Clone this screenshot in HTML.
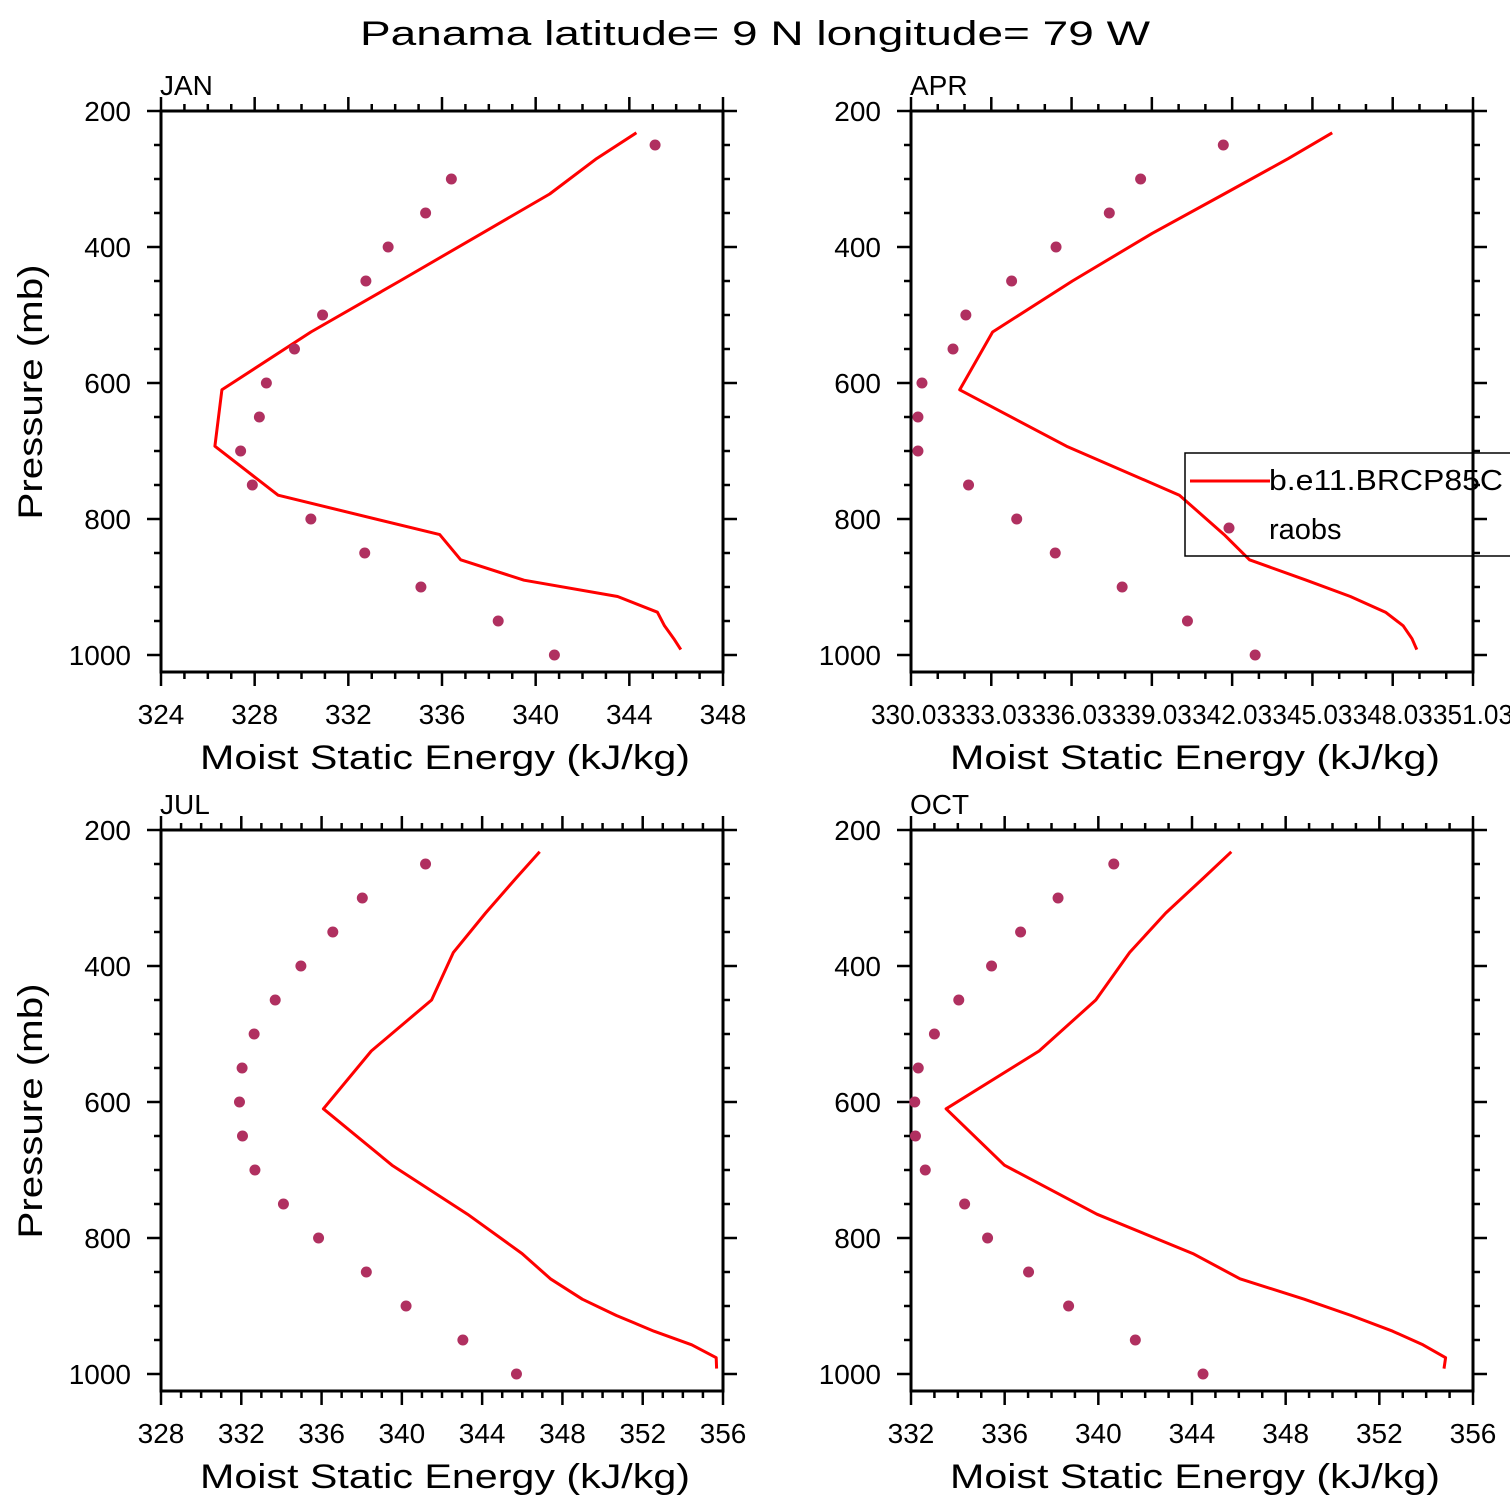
<!DOCTYPE html>
<html><head><meta charset="utf-8"><style>
html,body{margin:0;padding:0;background:#fff}
svg{display:block}
text{font-family:"Liberation Sans",sans-serif;fill:#000}
</style></head><body>
<svg id="fig" width="1510" height="1510" viewBox="0 0 1510 1510" xmlns="http://www.w3.org/2000/svg">
<rect x="0" y="0" width="1510" height="1510" fill="#fff"/>
<text x="755" y="45" text-anchor="middle" font-size="34" textLength="790" lengthAdjust="spacingAndGlyphs">Panama  latitude= 9 N longitude= 79 W</text>
</svg>
<script>
const levels = [232,270,322,380,450,525,610,693,765,823,860,890,914,937,957,976,992];
const obsLevels = [250,300,350,400,450,500,550,600,650,700,750,800,850,900,950,1000];
const janModel = [344.3,342.6,340.6,337.7,334.2,330.4,326.6,326.3,329.0,335.9,336.8,339.5,343.5,345.2,345.5,345.9,346.2];
const janObs = [345.1,336.4,335.3,333.7,332.75,330.9,329.7,328.5,328.2,327.4,327.9,330.4,332.7,335.1,338.4,340.8];
const aprModel = [345.77,344.13,341.73,339.04,336.06,333.08,331.85,335.84,340.06,341.73,342.68,344.8,346.45,347.76,348.42,348.75,348.93];
const aprObs = [341.70,338.61,337.44,335.45,333.79,332.08,331.6,330.44,330.29,330.29,332.18,333.98,335.42,337.92,340.36,342.89];
const julModel = [346.87,345.71,344.17,342.57,341.48,338.48,336.09,339.51,343.27,345.99,347.40,348.99,350.69,352.56,354.44,355.66,355.68];
const julObs = [341.18,338.03,336.56,334.97,333.69,332.64,332.04,331.91,332.06,332.68,334.10,335.85,338.23,340.21,343.04,345.71];
const octModel = [345.68,344.51,342.88,341.34,339.89,337.47,333.50,335.99,339.94,344.04,346.05,348.79,350.80,352.57,353.86,354.83,354.76];
const octObs = [340.66,338.28,336.68,335.44,334.04,333.0,332.31,332.16,332.19,332.61,334.29,335.27,337.02,338.73,341.58,344.47];
const janTicks = ["324","328","332","336","340","344","348"];
const aprTicks = ["330.03","333.03","336.03","339.03","342.03","345.03","348.03","351.03"];
const julTicks = ["328","332","336","340","344","348","352","356"];
const octTicks = ["332","336","340","344","348","352","356"];
const yTicks = ["200","400","600","800","1000"];

const NS="http://www.w3.org/2000/svg";
const svg=document.getElementById('fig');
function mk(tag,attrs,parent){const e=document.createElementNS(NS,tag);for(const k in attrs)e.setAttribute(k,attrs[k]);(parent||svg).appendChild(e);return e;}

const panels=[
 {name:'jan',label:'JAN',x0:161,top:111,xmin:324,xmax:348,major:4,minor:1,ticks:janTicks,model:janModel,obs:janObs,ylab:true,legend:false},
 {name:'apr',label:'APR',x0:911,top:111,xmin:330.03,xmax:351.03,major:3,minor:1,ticks:aprTicks,model:aprModel,obs:aprObs,ylab:false,legend:true},
 {name:'jul',label:'JUL',x0:161,top:830,xmin:328,xmax:356,major:4,minor:1,ticks:julTicks,model:julModel,obs:julObs,ylab:true,legend:false},
 {name:'oct',label:'OCT',x0:911,top:830,xmin:332,xmax:356,major:4,minor:1,ticks:octTicks,model:octModel,obs:octObs,ylab:false,legend:false}
];
const W=562, PPM=0.68, PMAX=1025;
panels.forEach(p=>{
  const g=mk('g',{});
  
  
  const xs=v=>p.x0+(v-p.xmin)/(p.xmax-p.xmin)*W;
  const ys=v=>p.top+(v-200)*PPM;
  const bottom=ys(PMAX);
  let tp='';
  const nMin=Math.round((p.xmax-p.xmin)/p.minor);
  for(let i=0;i<=nMin;i++){
    const v=p.xmin+i*p.minor; const x=xs(v);
    const isMaj=(i%Math.round(p.major/p.minor))===0; const L=isMaj?14:7;
    tp+=`M${x} ${p.top}V${p.top-L}M${x} ${bottom}V${bottom+L}`;
  }
  for(let v=200;v<=PMAX;v+=50){
    const y=ys(v); const L=(v%200===0)?14:7;
    tp+=`M${p.x0} ${y}H${p.x0-L}M${p.x0+W} ${y}H${p.x0+W+L}`;
  }
  const t=mk('path',{d:tp,stroke:'#000','stroke-width':2.5,fill:'none'},g);
  
  
  const f=mk('rect',{x:p.x0,y:p.top,width:W,height:bottom-p.top,fill:'none',stroke:'#000','stroke-width':3},g);
  
  
  p.ticks.forEach((s,i)=>{
    const x=xs(p.xmin+i*p.major);
    const attrs={x:x,y:bottom+52,'text-anchor':'middle','font-size':28};
    if(s.length>4){attrs.textLength=80;attrs.lengthAdjust='spacingAndGlyphs';}
    const e=mk('text',attrs,g); e.textContent=s;
    
    
  });
  yTicks.forEach(s=>{
    const e=mk('text',{x:p.x0-30,y:ys(+s)+10,'text-anchor':'end','font-size':28},g); e.textContent=s;
    
    
  });
  const xt=mk('text',{x:p.x0+W/2+3,y:bottom+97,'text-anchor':'middle','font-size':34,textLength:490,lengthAdjust:'spacingAndGlyphs'},g);
  xt.textContent='Moist Static Energy (kJ/kg)';
  
  
  if(p.ylab){
    const cy=p.top+281;
    const yt=mk('text',{x:42,y:cy,'text-anchor':'middle','font-size':34,textLength:255,lengthAdjust:'spacingAndGlyphs',transform:`rotate(-90 42 ${cy})`},g);
    yt.textContent='Pressure (mb)';
    
    
  }
  const ml=mk('text',{x:p.x0-1,y:p.top-16,'font-size':28},g); ml.textContent=p.label;
  
  
  const d=p.model.map((v,i)=>(i?'L':'M')+xs(v).toFixed(1)+' '+ys(levels[i]).toFixed(1)).join('');
  const ln=mk('path',{d:d,stroke:'#ff0000','stroke-width':3,fill:'none','stroke-linejoin':'round'},g);
  
  
  p.obs.forEach((v,i)=>{
    const c=mk('circle',{cx:xs(v),cy:ys(obsLevels[i]),r:5.5,fill:'#b03060'},g);
    
    
  });
  if(p.legend){
    const lg=mk('g',{},g);
    
    
    mk('rect',{x:1185,y:453,width:340,height:103,fill:'none',stroke:'#000','stroke-width':1.5},lg);
    const l1=mk('line',{x1:1190,y1:481,x2:1270,y2:481,stroke:'#ff0000','stroke-width':3},lg);
    
    
    const t1=mk('text',{x:1269,y:490,'font-size':29,textLength:234,lengthAdjust:'spacingAndGlyphs'},lg); t1.textContent='b.e11.BRCP85C';
    
    
    const c1=mk('circle',{cx:1229,cy:528,r:5.5,fill:'#b03060'},lg);
    
    
    const t2=mk('text',{x:1269,y:539,'font-size':29},lg); t2.textContent='raobs';
    
    
    mk('line',{x1:1473,y1:440,x2:1473,y2:570,stroke:'#000','stroke-width':3},lg);
  }
});
</script>
</body></html>
